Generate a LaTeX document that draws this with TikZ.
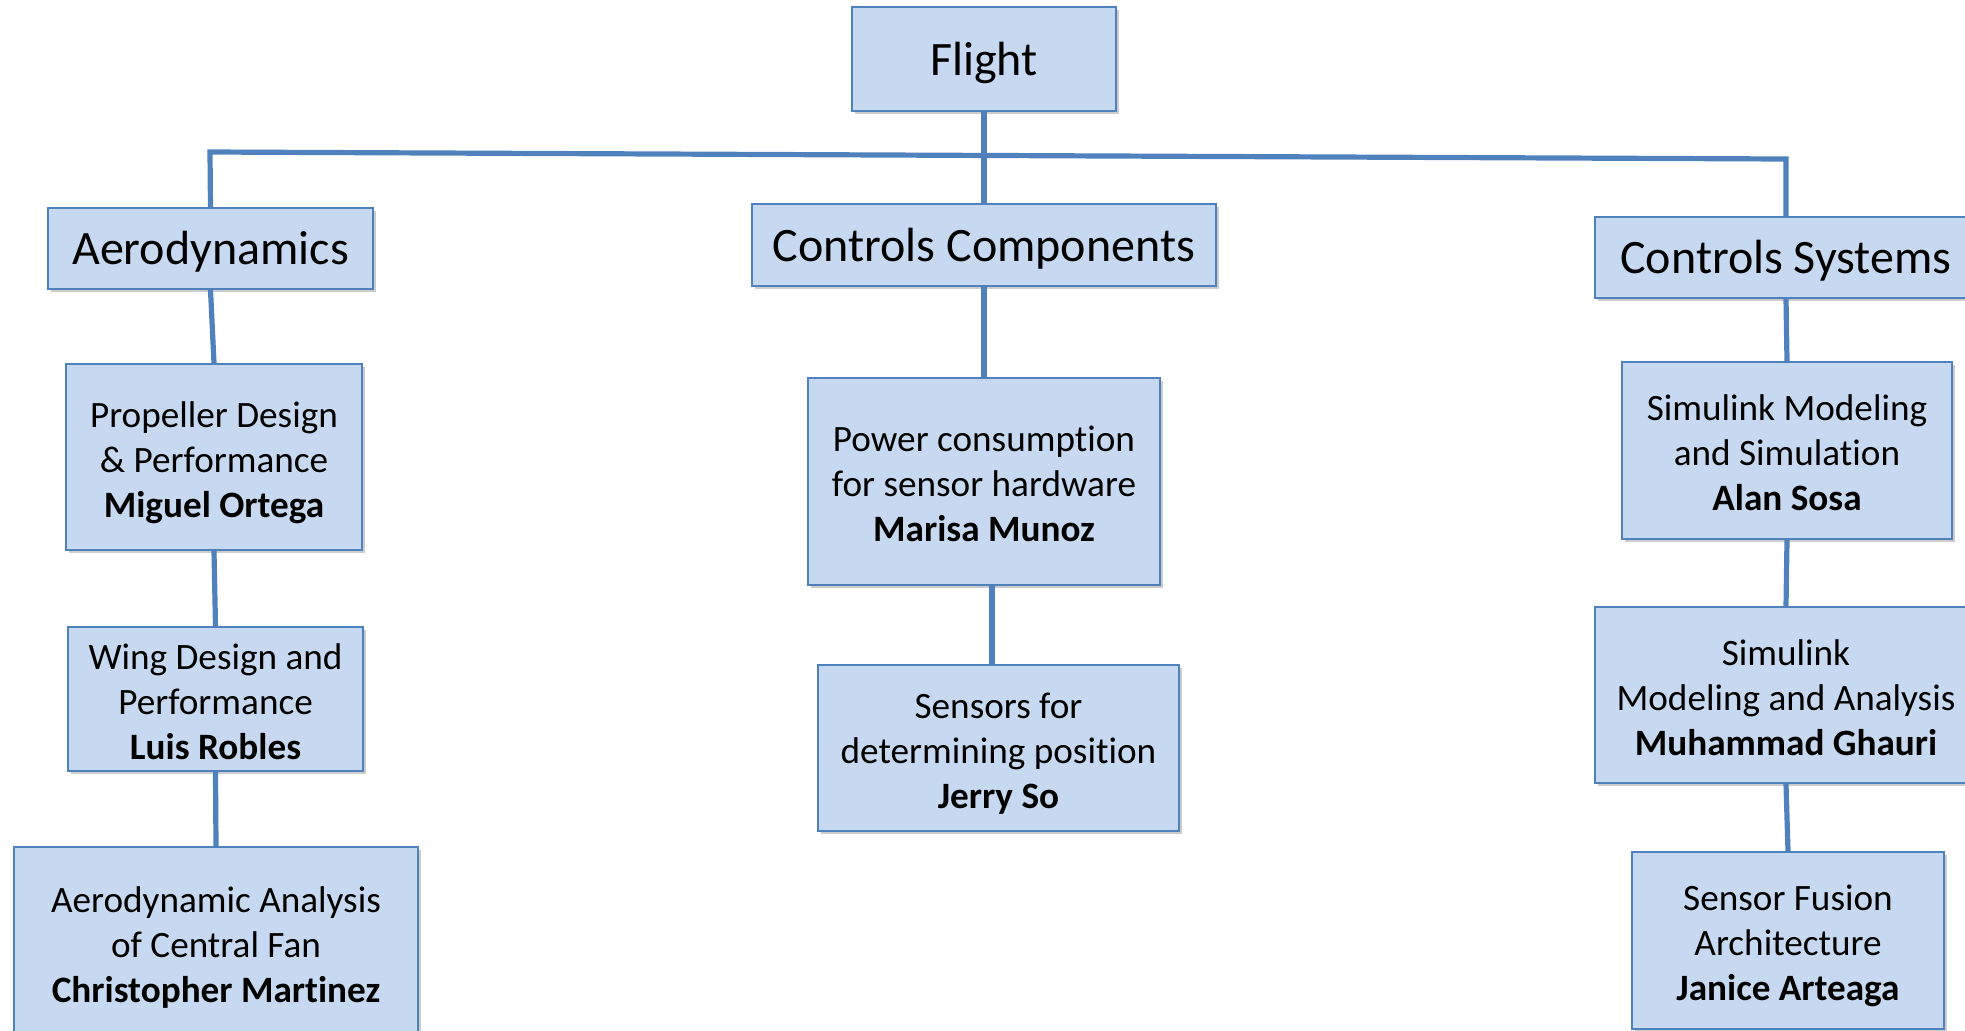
\documentclass[tikz,border=0pt]{standalone}
\usepackage{fontspec}
\setmainfont{Carlito}[Ligatures = NoCommon]
\usetikzlibrary{shadows}
\definecolor{boxfill}{RGB}{198,217,240}
\definecolor{boxline}{RGB}{79,129,189}
\begin{document}
\begin{tikzpicture}[x = 0.5pt, y = -0.5pt,
  box/.style = {draw = boxline, line width = 1pt, fill = boxfill, inner sep = 0pt, align = center,
    drop shadow = {shadow xshift = 1.5pt, shadow yshift = -1.5pt, opacity = 0.2, fill = black}},
  head/.style = {box, font = \fontsize{24}{29.3}\selectfont,
    execute at begin node = {\rule{0pt}{22.85pt}}, execute at end node = {\rule[-6.46pt]{0pt}{6.46pt}}},
  task/.style = {box, font = \fontsize{18.6}{22.6}\selectfont,
    execute at begin node = {\rule{0pt}{65.4pt}}, execute at end node = {\rule[-5pt]{0pt}{5pt}}},
  link/.style = {draw = boxline, line width = 2.6pt}]

  \useasboundingbox (0, 0) rectangle (1965, 1030);

  \node[head, minimum width = 132pt, minimum height = 52pt] (flight) at (984, 59) {Flight};

  \node[head, minimum width = 162.5pt, minimum height = 40.5pt] (aero) at (210.5, 248.5) {Aerodynamics};
  \node[head, minimum width = 232pt, minimum height = 41pt] (cc) at (984, 245) {Controls Components};
  \node[head, minimum width = 191pt, minimum height = 40.5pt] (cs) at (1786, 257.5) {Controls Systems};

  \node[task, minimum width = 148pt, minimum height = 93pt] (prop) at (214, 457) {Propeller Design\\ \& Performance\\ \textbf{Miguel Ortega}};
  \node[task, minimum width = 147.5pt, minimum height = 72pt] (wing) at (215.5, 699) {Wing Design and\\ Performance\\ \textbf{Luis Robles}};
  \node[task, minimum width = 202pt, minimum height = 95pt] (fan) at (216, 942) {Aerodynamic Analysis\\ of Central Fan\\ \textbf{Christopher Martinez}};

  \node[task, minimum width = 176pt, minimum height = 103.5pt] (power) at (984, 481.5) {Power consumption\\ for sensor hardware\\ \textbf{Marisa Munoz}};
  \node[task, minimum width = 180.5pt, minimum height = 83pt] (sensors) at (998.5, 748) {Sensors for\\ determining position\\ \textbf{Jerry So}};

  \node[task, minimum width = 165pt, minimum height = 88.5pt] (simmod) at (1787, 450.5) {Simulink Modeling\\ and Simulation\\ \textbf{Alan Sosa}};
  \node[task, minimum width = 191pt, minimum height = 88pt] (simanal) at (1786, 695) {Simulink\\ Modeling and Analysis\\ \textbf{Muhammad Ghauri}};
  \node[task, minimum width = 156pt, minimum height = 88.5pt] (fusion) at (1788, 940.5) {Sensor Fusion\\ Architecture\\ \textbf{Janice Arteaga}};

  % bus under Flight
  \coordinate (busL) at (210, 152);
  \coordinate (busR) at (1786, 159);

  \draw[link] (flight.south) -- (cc.north);
  \draw[link] (aero.north) -- (busL) -- (busR) -- (cs.north);

  \draw[link] (aero.south) -- (prop.north);
  \draw[link] (prop.south) -- (wing.north);
  \draw[link] (wing.south) -- (fan.north);

  \draw[link] (cc.south) -- (power.north);
  \draw[link] ([xshift = 4pt]power.south) -- ([xshift = 4pt]power.south |- sensors.north);

  \draw[link] (cs.south) -- (simmod.north);
  \draw[link] (simmod.south) -- (simanal.north);
  \draw[link] (simanal.south) -- (fusion.north);

\end{tikzpicture}
\end{document}
